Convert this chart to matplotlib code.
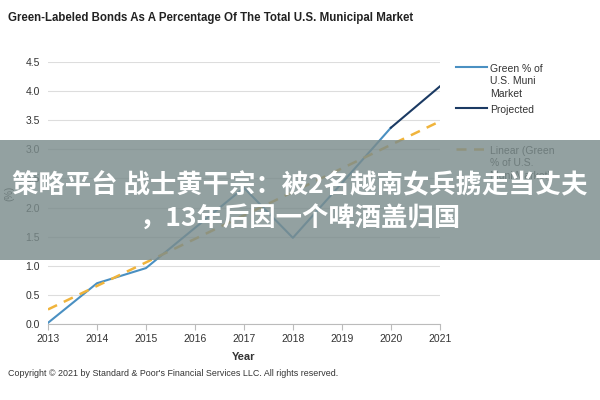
import matplotlib
matplotlib.use('Agg')
import matplotlib.pyplot as plt
from matplotlib.patches import Rectangle
from matplotlib.lines import Line2D

# Данные
years = [2013, 2014, 2015, 2016, 2017, 2018, 2019, 2020]
green_pct = [0.02, 0.70, 0.96, 1.65, 2.34, 1.48, 2.42, 3.37]
proj_years = [2020, 2021]
proj_pct = [3.37, 4.08]
trend_years = [2013, 2021]
trend_pct = [0.25, 3.48]
xticks = list(range(2013, 2022))
yticks = [0.0, 0.5, 1.0, 1.5, 2.0, 2.5, 3.0, 3.5, 4.0, 4.5]
legend_labels = ['Green % of\nU.S. Muni\nMarket', 'Projected', 'Linear (Green\n% of U.S.\nMuni Market)']

plt.rcParams['font.family'] = ['Liberation Sans', 'DejaVu Sans']

fig = plt.figure(figsize=(6, 4), dpi=100)
ax = fig.add_axes([0.08, 0.19, 0.653, 0.655])

styles = [
    dict(color='#4a90c2', linewidth=1.5),
    dict(color='#1b3a63', linewidth=1.5),
    dict(color='#f0b43c', linewidth=1.8, linestyle=(0, (4, 3))),
]
ax.plot(years, green_pct, **styles[0])
ax.plot(proj_years, proj_pct, **styles[1])
ax.plot(trend_years, trend_pct, **styles[2])

ax.set_xlim(2013, 2021)
ax.set_ylim(0, 4.5)
ax.set_xticks(xticks)
ax.set_yticks(yticks)
ax.set_yticklabels([f'{v:.1f}' for v in yticks])
ax.grid(axis='y', color='#dddddd', linewidth=0.8)
ax.set_axisbelow(True)
for s in ['top', 'right', 'left']:
    ax.spines[s].set_visible(False)
ax.spines['bottom'].set_color('#bbbbbb')
ax.tick_params(axis='y', length=0, labelsize=7.5, colors='#333333', pad=6)
ax.tick_params(axis='x', length=4, color='#bbbbbb', labelsize=7.5, colors='#333333', pad=3)
ax.set_xlabel('Year', fontsize=8, fontweight='bold', color='#333333', labelpad=6)
ax.set_ylabel('(%)', fontsize=7, color='#333333', labelpad=8)

# Легенда вручную: каждая запись занимает одинаковую высоту
leg_top = 0.833
for i, (lab, st) in enumerate(zip(legend_labels, styles)):
    y = leg_top - i * 0.1025
    fig.add_artist(Line2D([0.760, 0.812], [y, y], transform=fig.transFigure, **st))
    fig.text(0.817, y + 0.008, lab, fontsize=7.5, color='#333333', va='top',
             linespacing=1.35)

fig.text(0.013, 0.955, 'Green-Labeled Bonds As A Percentage Of The Total U.S. Municipal Market',
         fontsize=8.3, fontweight='bold', color='#222222', va='center')
fig.text(0.013, 0.065, "Copyright \u00a9 2021 by Standard & Poor's Financial Services LLC. All rights reserved.",
         fontsize=6.4, color='#333333', va='center')

# Полупрозрачная плашка с текстом поверх графика
fig.patches.append(Rectangle((0, 0.35), 1, 0.30, transform=fig.transFigure,
                             facecolor='#7b8c8c', alpha=0.82, zorder=10))
cjk = ['Noto Sans CJK SC', 'DejaVu Sans']
fig.text(0.5, 0.535, '策略平台 战士黄干宗：被2名越南女兵掳走当丈夫', family=cjk,
         fontsize=19, fontweight='bold', color='white', ha='center', va='center', zorder=11)
fig.text(0.5, 0.452, '，13年后因一个啤酒盖归国', family=cjk,
         fontsize=19, fontweight='bold', color='white', ha='center', va='center', zorder=11)

fig.savefig('out.png', dpi=100)
